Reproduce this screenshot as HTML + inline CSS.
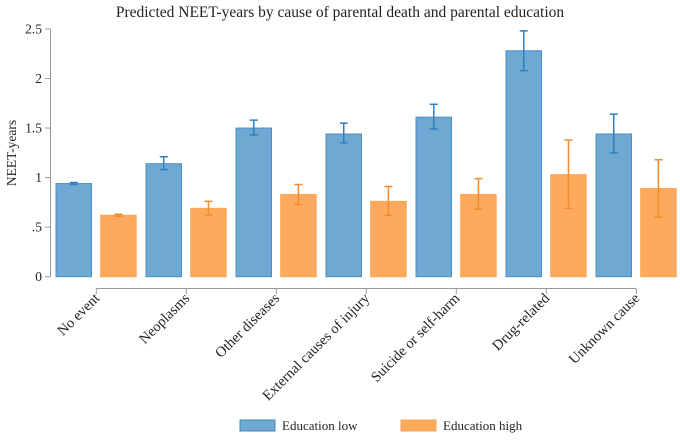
<!DOCTYPE html>
<html><head><meta charset="utf-8"><style>
body{margin:0;background:#fff}
text{font-family:"Liberation Serif","DejaVu Serif",serif;fill:#222}
</style></head><body>
<svg id="c" width="680" height="436" font-family="Liberation Serif, serif">
<text x="340" y="17" text-anchor="middle" font-size="15.5" font-family="Liberation Serif, serif">Predicted NEET-years by cause of parental death and parental education</text>
<text transform="translate(16,153) rotate(-90)" text-anchor="middle" font-size="13.5" font-family="Liberation Serif, serif">NEET-years</text>
<g id="g"></g>
<g>
<rect x="240" y="420" width="35" height="11" fill="#6fa8d2" stroke="#3d85c0"/>
<text x="282" y="430" font-size="13" font-family="Liberation Serif, serif">Education low</text>
<rect x="401" y="420" width="35" height="11" fill="#fdaa5e" stroke="#f5a050"/>
<text x="443" y="430" font-size="13" font-family="Liberation Serif, serif">Education high</text>
</g>
</svg>
<script>
const categories=["No event","Neoplasms","Other diseases","External causes of injury","Suicide or self-harm","Drug-related","Unknown cause"];
const lowValues=[0.94,1.14,1.50,1.44,1.61,2.28,1.44];
const lowLo=[0.93,1.08,1.43,1.35,1.49,2.08,1.25];
const lowHi=[0.95,1.21,1.58,1.55,1.74,2.48,1.64];
const highValues=[0.62,0.69,0.83,0.76,0.83,1.03,0.89];
const highLo=[0.61,0.62,0.73,0.62,0.68,0.69,0.60];
const highHi=[0.63,0.76,0.93,0.91,0.99,1.38,1.18];
const yTicks=[0,0.5,1,1.5,2,2.5];
const yTickLabels=["0",".5","1","1.5","2","2.5"];
const NS="http://www.w3.org/2000/svg";
const g=document.getElementById('g');
const y=v=>276.7-v*99.1;
const xc=i=>96.3+i*90;
function mk(t,a){const e=document.createElementNS(NS,t);for(const k in a)e.setAttribute(k,a[k]);g.appendChild(e);return e;}
let ax=mk('line',{x1:50.5,x2:50.5,y1:y(2.5),y2:y(0),stroke:'#999'});


yTicks.forEach((t,i)=>{
 let l=mk('line',{x1:45,x2:50.5,y1:y(t),y2:y(t),stroke:'#999'});
 
 
 let tx=mk('text',{x:42,y:y(t)+4.5,'text-anchor':'end','font-size':13.5,'font-family':'Liberation Serif, serif'});
 tx.textContent=yTickLabels[i];
 
 
});
let xa=mk('line',{x1:xc(0),x2:xc(categories.length-1),y1:288.5,y2:288.5,stroke:'#999'});


function bar(i,v,lo,hi,off,fill,stroke,err,name){
 const x=xc(i)+off;
 let r=mk('rect',{x:x,y:y(v),width:35.5,height:y(0)-y(v),fill:fill,stroke:stroke,'stroke-width':1});
 
 
 const cx=x+17.75;
 let e=mk('path',{d:`M${cx},${y(hi)}V${y(lo)}M${cx-4},${y(hi)}H${cx+4}M${cx-4},${y(lo)}H${cx+4}`,stroke:err,'stroke-width':1.5,fill:'none'});
 
 
}
categories.forEach((c,i)=>{
 bar(i,lowValues[i],lowLo[i],lowHi[i],-40.3,'#6fa8d2','#4a8fc6','#2f7fbf','bar-low');
 bar(i,highValues[i],highLo[i],highHi[i],4.4,'#fdaa5e','#fca552','#f58a2a','bar-high');
 let t=mk('line',{x1:xc(i),x2:xc(i),y1:288.5,y2:294,stroke:'#999'});
 
 
 let tx=mk('text',{x:0,y:0,'text-anchor':'end','font-size':14.5,'font-family':'Liberation Serif, serif',transform:`translate(${xc(i)+4},${299}) rotate(-45)`});
 tx.textContent=c;
 
 
});
</script>
</body></html>
